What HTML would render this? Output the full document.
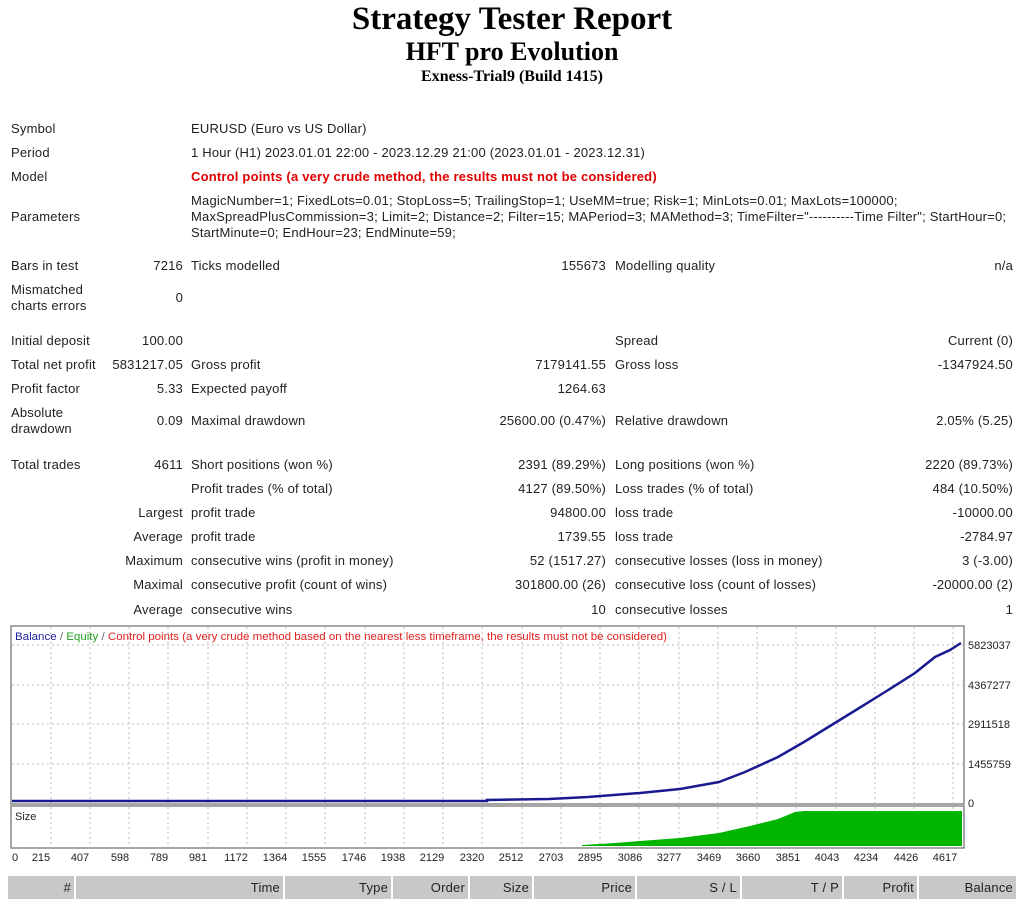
<!DOCTYPE html>
<html><head><meta charset="utf-8"><style>
body{margin:0;width:1024px;height:906px;background:#fff;position:relative;overflow:hidden;font-family:"Liberation Sans",sans-serif;font-size:13px;letter-spacing:0.2px;color:#222}
.t{position:absolute;white-space:nowrap;line-height:16px}
.r{text-align:right}
.h{position:absolute;left:0;width:1024px;text-align:center;font-family:"Liberation Serif",serif;font-weight:bold;color:#000;letter-spacing:0}
.th{position:absolute;top:876px;height:23px;background:#c8c8c8;line-height:23px;text-align:right;font-size:13px;color:#222;box-sizing:border-box;padding-right:3px}
</style></head><body>
<div class="h" style="top:1px;font-size:33px">Strategy Tester Report</div>
<div class="h" style="top:37px;font-size:26px">HFT pro Evolution</div>
<div class="h" style="top:68px;font-size:16px">Exness-Trial9 (Build 1415)</div>

<div class="t" style="left:11px;top:121px">Symbol</div>
<div class="t" style="left:191px;top:121px">EURUSD (Euro vs US Dollar)</div>
<div class="t" style="left:11px;top:145px">Period</div>
<div class="t" style="left:191px;top:145px">1 Hour (H1) 2023.01.01 22:00 - 2023.12.29 21:00 (2023.01.01 - 2023.12.31)</div>
<div class="t" style="left:11px;top:169px">Model</div>
<div class="t" style="left:191px;top:169px;color:#e00000;font-weight:bold">Control points (a very crude method, the results must not be considered)</div>
<div class="t" style="left:11px;top:209px">Parameters</div>
<div class="t" style="left:191px;top:193px">MagicNumber=1; FixedLots=0.01; StopLoss=5; TrailingStop=1; UseMM=true; Risk=1; MinLots=0.01; MaxLots=100000;</div>
<div class="t" style="left:191px;top:209px">MaxSpreadPlusCommission=3; Limit=2; Distance=2; Filter=15; MAPeriod=3; MAMethod=3; TimeFilter="----------Time Filter"; StartHour=0;</div>
<div class="t" style="left:191px;top:225px">StartMinute=0; EndHour=23; EndMinute=59;</div>

<div class="t" style="left:11px;top:258px">Bars in test</div>
<div class="t r" style="right:841px;top:258px">7216</div>
<div class="t" style="left:191px;top:258px">Ticks modelled</div>
<div class="t r" style="right:418px;top:258px">155673</div>
<div class="t" style="left:615px;top:258px">Modelling quality</div>
<div class="t r" style="right:11px;top:258px">n/a</div>

<div class="t" style="left:11px;top:282px">Mismatched<br>charts errors</div>
<div class="t r" style="right:841px;top:290px">0</div>

<div class="t" style="left:11px;top:333px">Initial deposit</div>
<div class="t r" style="right:841px;top:333px">100.00</div>
<div class="t" style="left:615px;top:333px">Spread</div>
<div class="t r" style="right:11px;top:333px">Current (0)</div>

<div class="t" style="left:11px;top:357px">Total net profit</div>
<div class="t r" style="right:841px;top:357px">5831217.05</div>
<div class="t" style="left:191px;top:357px">Gross profit</div>
<div class="t r" style="right:418px;top:357px">7179141.55</div>
<div class="t" style="left:615px;top:357px">Gross loss</div>
<div class="t r" style="right:11px;top:357px">-1347924.50</div>

<div class="t" style="left:11px;top:381px">Profit factor</div>
<div class="t r" style="right:841px;top:381px">5.33</div>
<div class="t" style="left:191px;top:381px">Expected payoff</div>
<div class="t r" style="right:418px;top:381px">1264.63</div>

<div class="t" style="left:11px;top:405px">Absolute<br>drawdown</div>
<div class="t r" style="right:841px;top:413px">0.09</div>
<div class="t" style="left:191px;top:413px">Maximal drawdown</div>
<div class="t r" style="right:418px;top:413px">25600.00 (0.47%)</div>
<div class="t" style="left:615px;top:413px">Relative drawdown</div>
<div class="t r" style="right:11px;top:413px">2.05% (5.25)</div>

<div class="t" style="left:11px;top:457px">Total trades</div>
<div class="t r" style="right:841px;top:457px">4611</div>
<div class="t" style="left:191px;top:457px">Short positions (won %)</div>
<div class="t r" style="right:418px;top:457px">2391 (89.29%)</div>
<div class="t" style="left:615px;top:457px">Long positions (won %)</div>
<div class="t r" style="right:11px;top:457px">2220 (89.73%)</div>

<div class="t" style="left:191px;top:481px">Profit trades (% of total)</div>
<div class="t r" style="right:418px;top:481px">4127 (89.50%)</div>
<div class="t" style="left:615px;top:481px">Loss trades (% of total)</div>
<div class="t r" style="right:11px;top:481px">484 (10.50%)</div>

<div class="t r" style="right:841px;top:505px">Largest</div>
<div class="t" style="left:191px;top:505px">profit trade</div>
<div class="t r" style="right:418px;top:505px">94800.00</div>
<div class="t" style="left:615px;top:505px">loss trade</div>
<div class="t r" style="right:11px;top:505px">-10000.00</div>

<div class="t r" style="right:841px;top:529px">Average</div>
<div class="t" style="left:191px;top:529px">profit trade</div>
<div class="t r" style="right:418px;top:529px">1739.55</div>
<div class="t" style="left:615px;top:529px">loss trade</div>
<div class="t r" style="right:11px;top:529px">-2784.97</div>

<div class="t r" style="right:841px;top:553px">Maximum</div>
<div class="t" style="left:191px;top:553px">consecutive wins (profit in money)</div>
<div class="t r" style="right:418px;top:553px">52 (1517.27)</div>
<div class="t" style="left:615px;top:553px">consecutive losses (loss in money)</div>
<div class="t r" style="right:11px;top:553px">3 (-3.00)</div>

<div class="t r" style="right:841px;top:577px">Maximal</div>
<div class="t" style="left:191px;top:577px">consecutive profit (count of wins)</div>
<div class="t r" style="right:418px;top:577px">301800.00 (26)</div>
<div class="t" style="left:615px;top:577px">consecutive loss (count of losses)</div>
<div class="t r" style="right:11px;top:577px">-20000.00 (2)</div>

<div class="t r" style="right:841px;top:602px">Average</div>
<div class="t" style="left:191px;top:602px">consecutive wins</div>
<div class="t r" style="right:418px;top:602px">10</div>
<div class="t" style="left:615px;top:602px">consecutive losses</div>
<div class="t r" style="right:11px;top:602px">1</div>

<svg style="position:absolute;left:0;top:620px" width="1024" height="250" viewBox="0 620 1024 250" font-family="Liberation Sans, sans-serif" letter-spacing="0">
<rect x="11" y="626" width="953" height="178" fill="#fff" stroke="#888" stroke-width="1.5"/>
<rect x="11" y="806" width="953" height="42" fill="#fff" stroke="#888" stroke-width="1.5"/>
<g stroke="#bbb" stroke-dasharray="2,3" stroke-width="1">
<line x1="12" y1="645" x2="963" y2="645"/><line x1="12" y1="685" x2="963" y2="685"/><line x1="12" y1="724" x2="963" y2="724"/><line x1="12" y1="764" x2="963" y2="764"/>
<line x1="51" y1="627" x2="51" y2="847"/><line x1="90" y1="627" x2="90" y2="847"/><line x1="129" y1="627" x2="129" y2="847"/><line x1="168" y1="627" x2="168" y2="847"/><line x1="208" y1="627" x2="208" y2="847"/><line x1="247" y1="627" x2="247" y2="847"/><line x1="286" y1="627" x2="286" y2="847"/><line x1="325" y1="627" x2="325" y2="847"/><line x1="365" y1="627" x2="365" y2="847"/><line x1="404" y1="627" x2="404" y2="847"/><line x1="443" y1="627" x2="443" y2="847"/><line x1="482" y1="627" x2="482" y2="847"/><line x1="522" y1="627" x2="522" y2="847"/><line x1="561" y1="627" x2="561" y2="847"/><line x1="600" y1="627" x2="600" y2="847"/><line x1="639" y1="627" x2="639" y2="847"/><line x1="679" y1="627" x2="679" y2="847"/><line x1="718" y1="627" x2="718" y2="847"/><line x1="757" y1="627" x2="757" y2="847"/><line x1="796" y1="627" x2="796" y2="847"/><line x1="836" y1="627" x2="836" y2="847"/><line x1="875" y1="627" x2="875" y2="847"/><line x1="914" y1="627" x2="914" y2="847"/><line x1="953" y1="627" x2="953" y2="847"/>
</g>
<polygon fill="#00b400" points="582,846 582,845 615,843 640,841 680,838 719,833 750,826 778,819 795,812 804,811 962,811 962,846"/>
<polyline fill="none" stroke="#1a1a90" stroke-width="2.5" points="12,801 487,801 487,800 549,799 588,797 640,793 680,789 719,782 745,772 778,757 804,742 830,726 856,710 885,692 915,673 935,657 950,650 961,643"/>
<text x="15" y="640" font-size="11" textLength="652" lengthAdjust="spacingAndGlyphs"><tspan fill="#2020a0">Balance</tspan><tspan fill="#666"> / </tspan><tspan fill="#20a020">Equity</tspan><tspan fill="#666"> / </tspan><tspan fill="#e02020">Control points (a very crude method based on the nearest less timeframe, the results must not be considered)</tspan></text>
<text x="15" y="820" font-size="11" fill="#222">Size</text>
<g font-size="11" fill="#222">
<text x="968" y="649">5823037</text><text x="968" y="689">4367277</text><text x="968" y="728">2911518</text><text x="968" y="768">1455759</text><text x="968" y="807">0</text>
</g>
<g font-size="11" fill="#222" text-anchor="middle">
<text x="15" y="861">0</text><text x="41" y="861">215</text><text x="80" y="861">407</text><text x="120" y="861">598</text><text x="159" y="861">789</text><text x="198" y="861">981</text><text x="236" y="861">1172</text><text x="275" y="861">1364</text><text x="314" y="861">1555</text><text x="354" y="861">1746</text><text x="393" y="861">1938</text><text x="432" y="861">2129</text><text x="472" y="861">2320</text><text x="511" y="861">2512</text><text x="551" y="861">2703</text><text x="590" y="861">2895</text><text x="630" y="861">3086</text><text x="669" y="861">3277</text><text x="709" y="861">3469</text><text x="748" y="861">3660</text><text x="788" y="861">3851</text><text x="827" y="861">4043</text><text x="866" y="861">4234</text><text x="906" y="861">4426</text><text x="945" y="861">4617</text>
</g>
</svg>

<div class="th" style="left:8px;width:66px">#</div>
<div class="th" style="left:76px;width:207px">Time</div>
<div class="th" style="left:285px;width:106px">Type</div>
<div class="th" style="left:393px;width:75px">Order</div>
<div class="th" style="left:470px;width:62px">Size</div>
<div class="th" style="left:534px;width:101px">Price</div>
<div class="th" style="left:637px;width:103px">S / L</div>
<div class="th" style="left:742px;width:100px">T / P</div>
<div class="th" style="left:844px;width:73px">Profit</div>
<div class="th" style="left:919px;width:97px">Balance</div>
</body></html>
